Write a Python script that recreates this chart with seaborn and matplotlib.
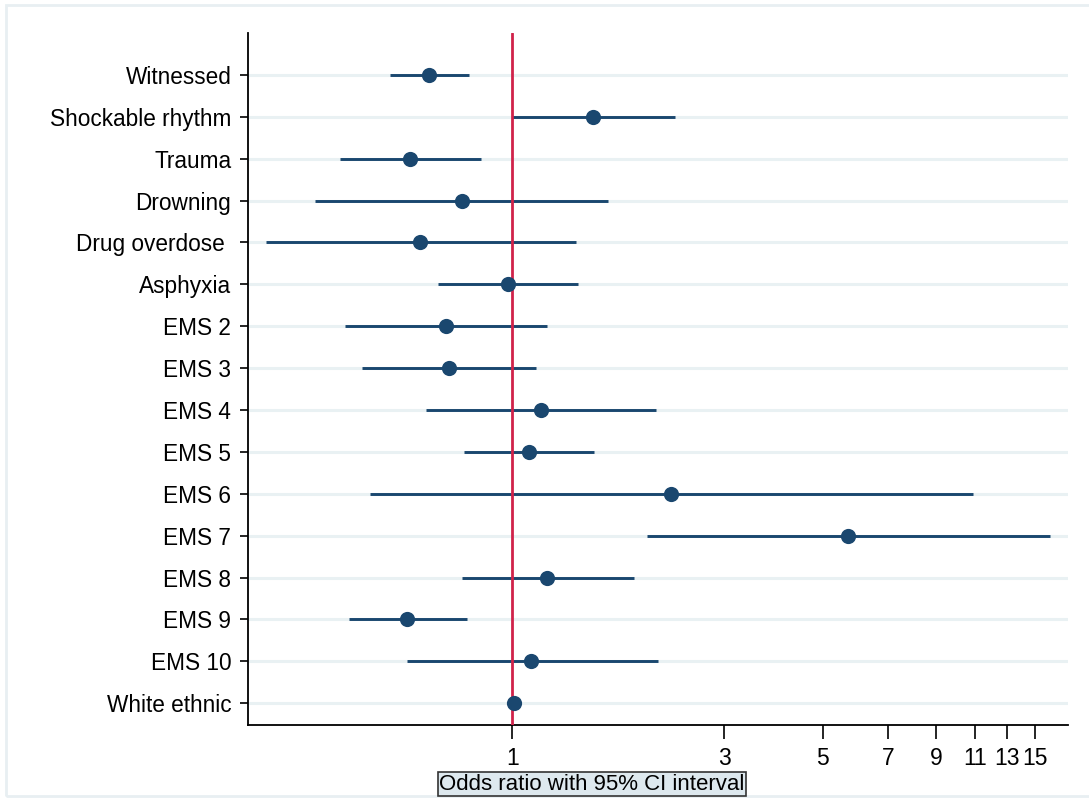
import numpy as np
import pandas as pd
import matplotlib
matplotlib.use("Agg")
import matplotlib.pyplot as plt
import seaborn as sns
from matplotlib.patches import Rectangle

labels = ["Witnessed", "Shockable rhythm", "Trauma", "Drowning", "Drug overdose ",
          "Asphyxia", "EMS 2", "EMS 3", "EMS 4", "EMS 5", "EMS 6", "EMS 7",
          "EMS 8", "EMS 9", "EMS 10", "White ethnic"]
odds = [0.65, 1.52, 0.59, 0.77, 0.62, 0.98, 0.71, 0.72, 1.16, 1.09, 2.28, 5.70,
        1.20, 0.58, 1.10, 1.01]
lower = [0.53, 1.00, 0.41, 0.36, 0.28, 0.68, 0.42, 0.46, 0.64, 0.78, 0.48, 2.01,
         0.77, 0.43, 0.58, 1.00]
upper = [0.80, 2.33, 0.85, 1.64, 1.39, 1.41, 1.20, 1.13, 2.11, 1.53, 10.9, 16.2,
         1.88, 0.79, 2.13, 1.02]
xticks = [1, 3, 5, 7, 9, 11, 13, 15]

navy = "#1a476f"
red = "#d0224a"
grid = "#e9f1f3"

sns.set_theme(style="white")
plt.rcParams["font.family"] = ["Liberation Sans", "DejaVu Sans"]
plt.rcParams["text.color"] = "black"
plt.rcParams["xtick.color"] = "black"
plt.rcParams["ytick.color"] = "black"

df = pd.DataFrame({"label": labels, "or": odds, "lo": lower, "hi": upper})
df["pos"] = np.arange(len(df))

fig = plt.figure(figsize=(10.89, 7.98), dpi=100)
ax = fig.add_axes([248 / 1089, 1 - 725 / 798, (1068 - 248) / 1089, (725 - 33) / 798])

ax.set_xscale("log")
ax.set_xlim(0.2546, 17.8)
ax.set_ylim(15.52, -1.0)

for p in df["pos"]:
    ax.axhline(p, color=grid, lw=2.2, zorder=0)

ax.hlines(df["pos"], df["lo"], df["hi"], color=navy, lw=2.1, zorder=2)
ax.axvline(1, color=red, lw=2.0, zorder=3)
sns.scatterplot(data=df, x="or", y="pos", ax=ax, color=navy, s=120,
                edgecolor=navy, linewidth=0, zorder=4, legend=False)

ax.set_yticks(df["pos"])
ax.set_yticklabels(labels, fontsize=16.3)
ax.set_xticks(xticks)
ax.set_xticklabels([str(t) for t in xticks], fontsize=16.5)
ax.xaxis.set_minor_locator(matplotlib.ticker.NullLocator())
ax.tick_params(axis="y", which="major", length=6, width=1.2, color="black", left=True, pad=6)
ax.tick_params(axis="x", which="major", length=10, width=1.2, color="black", bottom=True, pad=6)
ax.set_xlabel("")
ax.set_ylabel("")
for s in ["top", "right"]:
    ax.spines[s].set_visible(False)
for s in ["left", "bottom"]:
    ax.spines[s].set_color("black")
    ax.spines[s].set_linewidth(1.3)

fig.text(592 / 1089, 1 - 784 / 798, "Odds ratio with 95% CI interval", fontsize=16,
         ha="center", va="center",
         bbox=dict(boxstyle="square,pad=0.05", facecolor="#dde8ee", edgecolor="#333333", lw=1.2))

fig.patches.append(Rectangle((6 / 1089, 2 / 798), 1.0, 1 - 7 / 798, transform=fig.transFigure,
                             fill=False, edgecolor="#e8eff2", lw=2))

fig.savefig("out.png", dpi=100)
